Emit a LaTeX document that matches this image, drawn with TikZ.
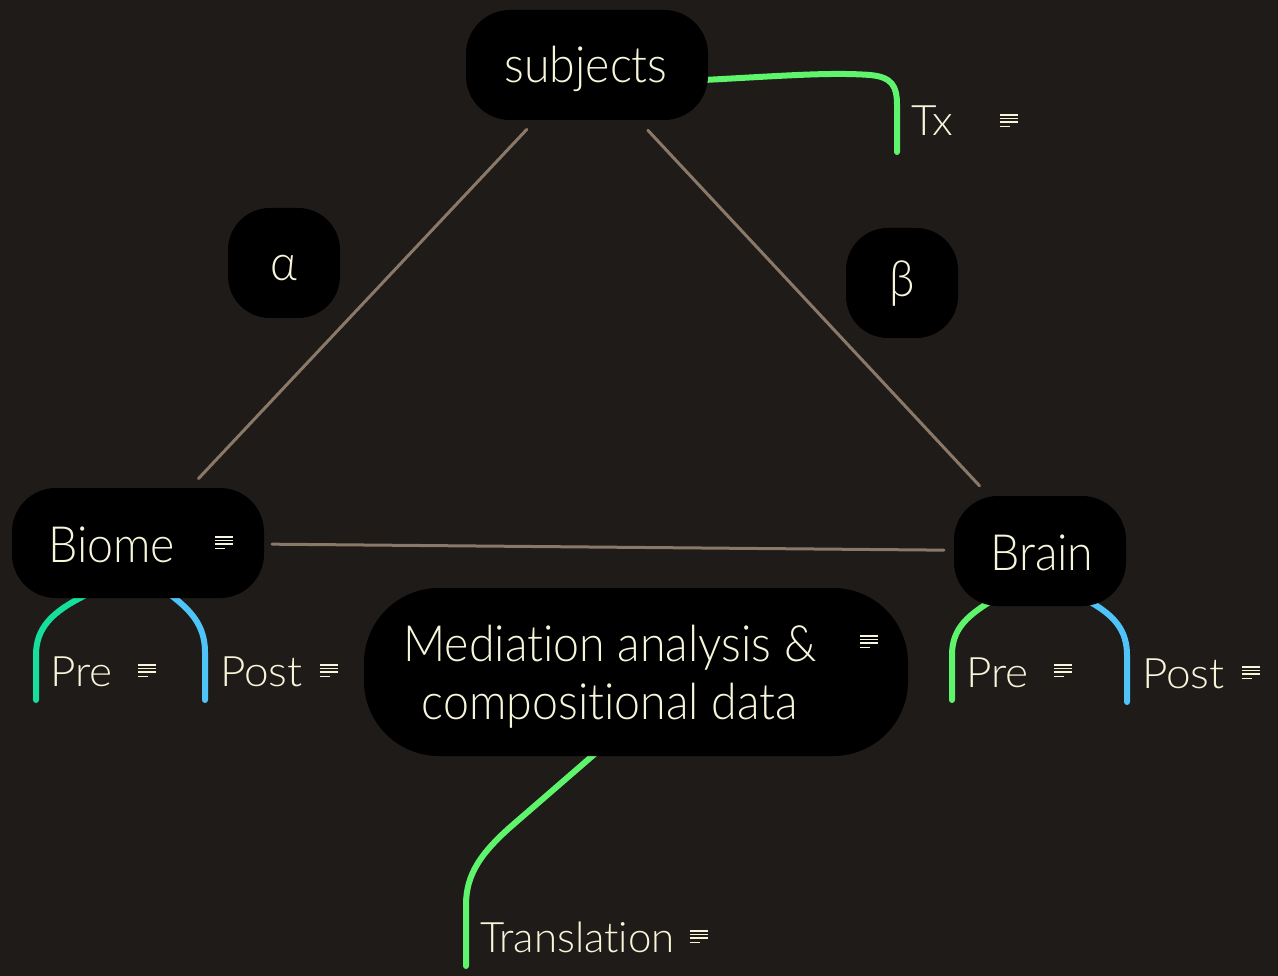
\documentclass[tikz,border=0pt]{standalone}
\usepackage{fontspec}
\setmainfont{Lato Light}[Ligatures=NoCommon]
\newfontfamily\mainf{Lato Light}[FakeStretch=0.93, Ligatures=NoCommon]
\newfontfamily\leaff{Lato Light}[FakeStretch=1.05, Ligatures=NoCommon]
\usetikzlibrary{calc}
\definecolor{bgc}{HTML}{1F1B18}
\definecolor{txt}{HTML}{F7F5DA}
\definecolor{edgec}{HTML}{8A7968}
\definecolor{lgreen}{HTML}{5EF56C}
\definecolor{lteal}{HTML}{16DE9C}
\definecolor{lblue}{HTML}{4EC4F8}
\pgfdeclarelayer{back}\pgfdeclarelayer{lines}\pgfsetlayers{back,lines,main}
\tikzset{
 box/.style={fill=black, draw=none, inner sep=0pt, outer sep=0pt},
 mtext/.style={text=txt, font=\mainf\fontsize{50}{59}\selectfont, inner sep=0pt},
 ltext/.style={text=txt, font=\leaff\fontsize{42}{48}\selectfont, inner sep=0pt},
 rel/.style={draw=edgec, line width=3pt, line cap=round},
 branch/.style={line width=6pt, line cap=round},
 noteicon/.pic={\draw[txt, line width=1.7pt] (-9,-6)--(9,-6) (-9,-2.6)--(9,-2.6) (-9,0.8)--(9,0.8) (-9,5.5)--(1,5.5);}
}
\begin{document}
\begin{tikzpicture}[x=1pt,y=-1pt]
\begin{pgfonlayer}{back}
\fill[bgc] (0,0) rectangle (1278,976);
\end{pgfonlayer}
\useasboundingbox (0,0) rectangle (1278,976);
% boxes
\node[box, minimum width=242pt, minimum height=110pt, rounded corners=44pt] (subjects) at (587,65) {};
\node[box, minimum width=112pt, minimum height=110pt, rounded corners=42pt] (alpha) at (284,263) {};
\node[box, minimum width=112pt, minimum height=110pt, rounded corners=42pt] (beta) at (902,283) {};
\node[box, minimum width=252pt, minimum height=110pt, rounded corners=44pt] (biome) at (138,543) {};
\node[box, minimum width=172pt, minimum height=110pt, rounded corners=44pt] (brain) at (1040,551) {};
\node[box, minimum width=544pt, minimum height=168pt, rounded corners=75pt] (med) at (636,672) {};
% texts
\node[mtext, anchor=base] (subjectsT) at (586,83) {subjects};
\node[mtext, anchor=base] (alphaT) at (284,281) {α};
\node[mtext, anchor=base] (betaT) at (902,297) {β};
\node[mtext, anchor=base west] (biomeT) at (48,562) {Biome};
\node[mtext, anchor=base west] (brainT) at (990,570) {Brain};
\node[mtext, anchor=base] (med1) at (610,661) {Mediation analysis \&};
\node[mtext, anchor=base] (med2) at (610,719) {compositional data};
\node[ltext, anchor=base west] (tx) at (911,136) {Tx};
\node[ltext, anchor=base west] (bpre) at (50,686) {Pre};
\node[ltext, anchor=base west] (bpost) at (220,686) {Post};
\node[ltext, anchor=base west] (rpre) at (966,687) {Pre};
\node[ltext, anchor=base west] (rpost) at (1142,688) {Post};
\node[ltext, font=\rmfamily\fontsize{42}{48}\selectfont, anchor=base west] (trans) at (480,952) {Translation};
% icons
\pic at (1009,121) {noteicon};
\pic at (224,543) {noteicon};
\pic at (147,671) {noteicon};
\pic at (329,671) {noteicon};
\pic at (1063,671) {noteicon};
\pic at (1251,673) {noteicon};
\pic at (869,642) {noteicon};
\pic at (699,937) {noteicon};
% free ends
\coordinate (txend) at (897,152);
\coordinate (bpreend) at (36,700);
\coordinate (bpostend) at (205,700);
\coordinate (rpreend) at (952,700);
\coordinate (rpostend) at (1127,702);
\coordinate (transend) at (466,966);
\begin{pgfonlayer}{lines}
\draw[rel, shorten <=13pt, shorten >=13pt] (subjects) -- (biome);
\draw[rel, shorten <=14pt, shorten >=14pt] (subjects) -- (brain);
\draw[rel, shorten <=8pt, shorten >=10pt] (biome) -- (brain);
\draw[branch, lgreen] ($(subjects.east)+(-4,15)$) .. controls (780,76) and (830,72) .. (870,75) .. controls (892,77) and (897,86) .. (897,105) -- (txend);
\draw[branch, lteal] ($(biome.south)+(-54,-2)$) .. controls (52,612) and (36,628) .. (36,655) -- (bpreend);
\draw[branch, lblue] ($(biome.south)+(34,-2)$) .. controls (190,610) and (205,625) .. (205,652) -- (bpostend);
\draw[branch, lgreen] ($(brain.south)+(-52,-3)$) .. controls (966,617) and (952,630) .. (952,655) -- (rpreend);
\draw[branch, lgreen] ($(med.south)+(-31,-11)$) -- (515,823) .. controls (480,853) and (466,875) .. (466,905) -- (transend);
\draw[branch, lblue] ($(brain.south)+(52,-3)$) .. controls (1114,616) and (1127,630) .. (1127,655) -- (rpostend);
\end{pgfonlayer}
\end{tikzpicture}
\end{document}
